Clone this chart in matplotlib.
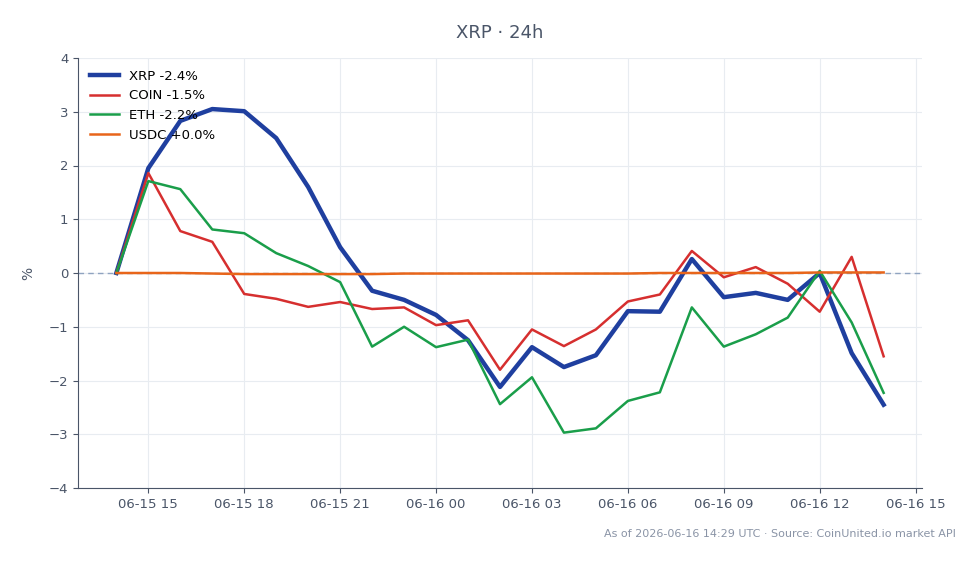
import matplotlib
matplotlib.use("Agg")
import matplotlib.pyplot as plt
import matplotlib.dates as mdates
import pandas as pd

times = pd.date_range("2026-06-15 14:00", "2026-06-16 14:00", freq="h")

xrp = [0.0, 1.95, 2.83, 3.05, 3.01, 2.51, 1.60, 0.48, -0.33, -0.50, -0.78, -1.25,
       -2.12, -1.38, -1.75, -1.53, -0.71, -0.72, 0.26, -0.45, -0.37, -0.50, 0.0,
       -1.49, -2.45]
coin = [0.0, 1.86, 0.78, 0.58, -0.39, -0.48, -0.63, -0.54, -0.67, -0.64, -0.97, -0.88,
        -1.80, -1.05, -1.36, -1.05, -0.53, -0.40, 0.41, -0.08, 0.11, -0.20, -0.72,
        0.30, -1.55]
eth = [0.0, 1.71, 1.56, 0.81, 0.74, 0.37, 0.13, -0.17, -1.37, -1.00, -1.38, -1.24,
       -2.44, -1.94, -2.97, -2.89, -2.38, -2.22, -0.64, -1.37, -1.14, -0.83, 0.04,
       -0.92, -2.23]
usdc = [0.0, 0.0, 0.0, -0.01, -0.02, -0.02, -0.02, -0.02, -0.02, -0.01, -0.01, -0.01,
        -0.01, -0.01, -0.01, -0.01, -0.01, 0.0, 0.0, 0.0, 0.0, 0.0, 0.01, 0.01, 0.01]

series = [
    ("XRP -2.4%", xrp, "#1f3f9f", 3.2),
    ("COIN -1.5%", coin, "#d62f2f", 1.8),
    ("ETH -2.2%", eth, "#1a9e4a", 1.8),
    ("USDC +0.0%", usdc, "#e8651a", 1.8),
]

text_col = "#4a5568"
fig = plt.figure(figsize=(9.79, 5.64), dpi=100)
ax = fig.add_axes([78/979, 1-488/564, (922-78)/979, (488-58)/564])

ax.axhline(0, color="#8fa3c0", lw=1, ls=(0, (4, 3)), zorder=1)
for label, vals, col, lw in series:
    ax.plot(times, vals, color=col, lw=lw, label=label, zorder=3)

ax.set_ylim(-4, 4)
ax.set_yticks(range(-4, 5))
ax.yaxis.set_major_formatter(matplotlib.ticker.FuncFormatter(lambda v, p: f"{int(v)}".replace("-", "\u2212")))
ax.xaxis.set_major_locator(mdates.HourLocator(byhour=range(0, 24, 3)))
ax.xaxis.set_major_formatter(mdates.DateFormatter("%m-%d %H"))
ax.grid(True, color="#e8ecf1", lw=0.8)
ax.set_axisbelow(True)
for s in ["top", "right"]:
    ax.spines[s].set_visible(False)
for s in ["left", "bottom"]:
    ax.spines[s].set_color("#4a5568")
ax.tick_params(colors=text_col, labelsize=9.5)
ax.set_ylabel("%", color=text_col, fontsize=10, labelpad=10)

leg = ax.legend(loc="upper left", frameon=False, fontsize=9.5, handlelength=2.2)
for t in leg.get_texts():
    t.set_color("black")

fig.text(500/979, 1-33/564, "XRP · 24h", ha="center", va="center", fontsize=13, color=text_col)
fig.text(956/979, 1-534/564, "As of 2026-06-16 14:29 UTC · Source: CoinUnited.io market API",
         ha="right", va="center", fontsize=8, color="#8a94a6")

fig.savefig("out.png", dpi=100)
